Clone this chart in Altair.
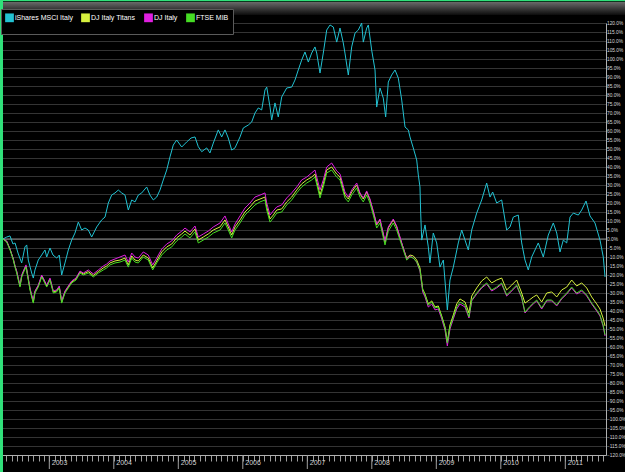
import altair as alt
import pandas as pd

series_names = ["iShares MSCI Italy", "DJ Italy Titans", "DJ Italy", "FTSE MIB"]
series_colors = ["#22c2d2", "#d6f03e", "#e020e0", "#46dc24"]

# iShares MSCI Italy (decimal year, % change)
cyan_t = [
    2002.282, 2002.340, 2002.391, 2002.437, 2002.469, 2002.515, 2002.572, 2002.623, 2002.650, 2002.674,
    2002.727, 2002.752, 2002.778, 2002.829, 2002.882, 2002.933, 2002.960, 2003.011, 2003.057, 2003.115,
    2003.155, 2003.192, 2003.243, 2003.295, 2003.347, 2003.398, 2003.450, 2003.502, 2003.553, 2003.605,
    2003.657, 2003.735, 2003.812, 2003.864, 2003.915, 2003.967, 2004.019, 2004.070, 2004.122, 2004.174,
    2004.225, 2004.278, 2004.329, 2004.380, 2004.433, 2004.510, 2004.561, 2004.612, 2004.665, 2004.716,
    2004.767, 2004.820, 2004.871, 2004.922, 2004.975, 2005.053, 2005.130, 2005.197, 2005.259, 2005.310,
    2005.363, 2005.440, 2005.491, 2005.543, 2005.620, 2005.673, 2005.724, 2005.775, 2005.828, 2005.879,
    2005.957, 2006.008, 2006.085, 2006.138, 2006.189, 2006.240, 2006.293, 2006.344, 2006.371, 2006.422,
    2006.448, 2006.499, 2006.550, 2006.603, 2006.681, 2006.758, 2006.809, 2006.860, 2006.913, 2006.964,
    2007.016, 2007.068, 2007.119, 2007.146, 2007.197, 2007.248, 2007.301, 2007.352, 2007.403, 2007.456,
    2007.507, 2007.558, 2007.584, 2007.636, 2007.688, 2007.740, 2007.791, 2007.843, 2007.868, 2007.921,
    2007.946, 2007.998, 2008.050, 2008.076, 2008.127, 2008.178, 2008.215, 2008.256, 2008.308, 2008.360,
    2008.411, 2008.464, 2008.515, 2008.566, 2008.592, 2008.643, 2008.696, 2008.721, 2008.747, 2008.758,
    2008.774, 2008.825, 2008.876, 2008.902, 2008.953, 2009.006, 2009.057, 2009.109, 2009.171, 2009.212,
    2009.264, 2009.341, 2009.394, 2009.445, 2009.496, 2009.549, 2009.626, 2009.704, 2009.781, 2009.833,
    2009.874, 2009.936, 2010.014, 2010.091, 2010.143, 2010.194, 2010.271, 2010.324, 2010.375, 2010.426,
    2010.479, 2010.530, 2010.581, 2010.659, 2010.736, 2010.814, 2010.867, 2010.918, 2010.969, 2011.022,
    2011.073, 2011.124, 2011.202, 2011.254, 2011.321, 2011.383, 2011.460, 2011.538, 2011.589, 2011.616,
]
cyan_v = [
    0, 1.1, 1.7, -2.8, -2.2, -7.8, -13.3, -4.4, -3.3, -11.7,
    -18.9, -21.7, -17.2, -11.7, -8.9, -6.1, -10, -5, -8.9, -10.6,
    -8.9, -20, -13.3, -6.1, -0.6, 3.3, 9.4, 5, 6.1, 5,
    1.1, 6.7, 10.6, 12.2, 20, 24.4, 25.6, 27.2, 25.6, 24.4,
    16.1, 21.7, 20.6, 24.4, 25.6, 28.9, 24.4, 21.7, 23.3, 27.2,
    32.8, 38.3, 45.6, 52.2, 55, 51.1, 53.9, 56.1, 56.7, 51.3,
    48.5, 50.6, 47.8, 53.3, 60.6, 56.7, 60.6, 56.1, 49.4, 50.6,
    56.7, 61.7, 63.3, 65, 70, 72.8, 71.7, 82.8, 84.4, 73.3,
    66.1, 75.6, 67.8, 78.9, 83.9, 84.4, 88.3, 93.9, 99.4, 103.9,
    98.3, 103.3, 106.7, 103.3, 92.2, 103.3, 116.1, 118.9, 117.8, 109.4,
    117.2, 108.9, 103.3, 91.1, 106.7, 114.4, 116.1, 120, 109.4, 117.2,
    118.9, 105, 93.9, 73.3, 83.9, 78.3, 67.8, 87.2, 91.1, 93.9,
    89.4, 77.2, 62.2, 60.6, 56.7, 50.6, 43.9, 35.6, 28.9, 14.4,
    -0.6, 7.8, -4.4, -13.3, 3.3, -2.2, -15.6, -11.7, -39.4, -22.8,
    -15.6, -2.2, 5, -0.6, -6.1, 5, 14.4, 21.7, 31.1, 23.3,
    26.1, 20, 21.7, 5, 6.7, 12.2, 13.3, -2.2, -11.7, -17.2,
    -10, -6.1, -2.2, -10, 2.2, 8.9, 3.3, -7.2, -0.6, -2.2,
    12.2, 14.4, 13.3, 16.1, 21.1, 12.8, 8.9, -0.6, -10, -21.1,
]

# DJ Italy Titans, DJ Italy, FTSE MIB share one date list
lower_t = [
    2002.282, 2002.340, 2002.391, 2002.442, 2002.468, 2002.495, 2002.519, 2002.546, 2002.572, 2002.597,
    2002.639, 2002.674, 2002.701, 2002.727, 2002.752, 2002.778, 2002.829, 2002.882, 2002.907, 2002.960,
    2003.011, 2003.062, 2003.115, 2003.155, 2003.192, 2003.243, 2003.295, 2003.347, 2003.414, 2003.476,
    2003.527, 2003.605, 2003.682, 2003.760, 2003.837, 2003.890, 2003.941, 2004.019, 2004.096, 2004.174,
    2004.225, 2004.278, 2004.329, 2004.380, 2004.457, 2004.535, 2004.603, 2004.665, 2004.743, 2004.820,
    2004.898, 2004.975, 2005.053, 2005.104, 2005.181, 2005.259, 2005.310, 2005.388, 2005.465, 2005.543,
    2005.647, 2005.724, 2005.775, 2005.828, 2005.879, 2005.957, 2006.034, 2006.112, 2006.189, 2006.267,
    2006.344, 2006.371, 2006.422, 2006.473, 2006.526, 2006.603, 2006.681, 2006.758, 2006.836, 2006.913,
    2006.991, 2007.068, 2007.119, 2007.197, 2007.248, 2007.301, 2007.378, 2007.456, 2007.507, 2007.584,
    2007.636, 2007.688, 2007.766, 2007.817, 2007.868, 2007.921, 2007.972, 2008.023, 2008.076, 2008.127,
    2008.205, 2008.256, 2008.333, 2008.386, 2008.437, 2008.488, 2008.541, 2008.592, 2008.643, 2008.696,
    2008.747, 2008.789, 2008.825, 2008.876, 2008.929, 2008.980, 2009.031, 2009.084, 2009.135, 2009.171,
    2009.212, 2009.264, 2009.316, 2009.367, 2009.445, 2009.507, 2009.549, 2009.626, 2009.704, 2009.781,
    2009.859, 2009.936, 2010.014, 2010.091, 2010.169, 2010.246, 2010.324, 2010.375, 2010.442, 2010.504,
    2010.557, 2010.634, 2010.712, 2010.789, 2010.867, 2010.944, 2011.022, 2011.099, 2011.177, 2011.254,
    2011.332, 2011.409, 2011.487, 2011.538, 2011.586, 2011.616,
]
titans_v = [
    0, -1.4, -5.6, -11.1, -15, -18.3, -22.2, -26.1, -20.6, -18.3,
    -15, -22.2, -27.8, -31.7, -35, -29.4, -26.1, -20.6, -22.2, -26.1,
    -22.2, -29.4, -28.9, -26.7, -35, -29.4, -26.7, -23.9, -22.2, -18.3,
    -19.4, -18.1, -20.3, -18.1, -16.1, -15, -13.3, -12.2, -11.7, -10.6,
    -14.4, -9.4, -11.7, -12.2, -8.9, -10.6, -16.1, -12.2, -7.2, -4.4,
    -2.8, 0.6, 2.8, 4.4, 2.2, 5.6, -0.6, 1.1, 2.8, 5,
    6.7, 10.6, 6.7, 2.2, 6.7, 10.6, 15, 17.8, 21.1, 22.2,
    23.3, 17.8, 11.1, 13.3, 16.1, 16.7, 20.6, 23.3, 27.2, 30.6,
    32.8, 34.4, 36.1, 24.4, 30.6, 38.3, 40, 36.1, 34.4, 24.4,
    22.2, 26.1, 30, 25, 22.2, 26.1, 21.7, 15, 7.8, 10.6,
    -1.7, 6.1, 10.6, 6.7, 0.6, -5, -10.6, -8.9, -9.4, -11.7,
    -16.1, -27.8, -30.6, -36.1, -34.4, -37.8, -37.2, -42.8, -48.9, -57.2,
    -47.8, -42.2, -36.1, -33.3, -35, -41.1, -31.7, -27.2, -23.3, -21.1,
    -24.4, -22.8, -21.7, -28.3, -25.6, -22.8, -30, -35.6, -33.9, -32.2,
    -31.1, -35, -30, -29.4, -32.2, -28.3, -26.7, -22.8, -26.1, -24.4,
    -27.2, -32.2, -36.1, -38.9, -43.9, -48.3,
]
djitaly_v = [
    0, -1.1, -5.6, -11.1, -15, -17.8, -21.7, -25.6, -20, -17.8,
    -14.4, -21.7, -27.2, -31.1, -33.9, -28.9, -25.6, -20, -21.7, -25.6,
    -21.7, -28.9, -28.3, -26.1, -34.4, -28.9, -26.1, -23.3, -21.7, -17.8,
    -18.9, -17.2, -19.4, -17.2, -15, -13.9, -12.2, -11.1, -10, -8.9,
    -12.8, -7.8, -10, -10.6, -7.2, -8.9, -14.4, -10.6, -5.6, -2.8,
    -1.1, 2.2, 4.4, 6.1, 3.9, 7.2, 1.1, 2.8, 4.4, 6.7,
    8.9, 12.8, 8.3, 3.9, 8.3, 12.8, 17.2, 20, 23.3, 24.4,
    25.6, 20, 13.3, 15.6, 17.8, 18.9, 22.8, 25.6, 28.9, 32.8,
    34.4, 36.7, 38.3, 27.2, 32.8, 40, 42.2, 37.8, 36.1, 26.1,
    23.3, 27.2, 31.1, 25.6, 22.8, 26.7, 22.2, 15.6, 8.3, 11.1,
    -1.1, 6.7, 11.1, 7.2, 1.1, -5, -11.1, -9.4, -10.6, -12.8,
    -17.8, -29.4, -32.2, -37.8, -36.1, -39.4, -38.9, -44.4, -50.6, -59.4,
    -50, -44.4, -38.9, -36.1, -37.8, -43.9, -34.4, -30.6, -27.2, -25,
    -28.9, -27.2, -25, -31.7, -28.9, -26.1, -32.8, -41.1, -38.3, -36.1,
    -34.4, -38.9, -34.4, -34.4, -37.2, -33.3, -30.6, -27.2, -30.6, -28.9,
    -31.7, -36.1, -40, -42.8, -48.3, -53.9,
]
ftse_v = [
    0, -1.7, -6.1, -11.7, -15.6, -18.9, -22.8, -26.7, -21.1, -18.9,
    -15.6, -22.8, -28.3, -32.2, -35.6, -30, -26.7, -21.1, -22.8, -26.7,
    -22.8, -30, -29.4, -27.2, -35.6, -30, -27.2, -24.4, -22.8, -18.9,
    -20, -18.9, -21.1, -18.9, -17.2, -16.1, -14.4, -13.3, -12.8, -11.7,
    -15.6, -10.6, -12.8, -13.3, -10, -11.7, -17.2, -13.3, -8.9, -6.1,
    -4.4, -1.1, 1.1, 2.8, 0.6, 3.9, -2.2, -0.6, 1.1, 3.3,
    5, 8.9, 5, 0.6, 5, 8.9, 13.3, 16.1, 18.9, 20.6,
    21.7, 16.1, 9.4, 11.7, 14.4, 15, 18.9, 21.7, 25.6, 28.9,
    31.1, 32.8, 34.4, 22.8, 28.9, 36.7, 38.3, 34.4, 32.8, 22.8,
    20.6, 24.4, 28.3, 23.3, 20.6, 24.4, 20, 13.3, 6.1, 8.9,
    -3.3, 4.4, 8.9, 5, -0.6, -6.1, -11.7, -10, -10.6, -12.8,
    -17.2, -28.3, -31.1, -36.7, -35, -38.3, -37.8, -43.3, -49.4, -57.8,
    -48.9, -43.3, -37.8, -35, -36.7, -43.3, -33.9, -30, -26.7, -24.4,
    -28.3, -26.7, -24.4, -31.1, -28.3, -25.6, -32.2, -40.6, -37.8, -35.6,
    -33.9, -38.3, -33.9, -33.9, -36.7, -32.8, -30, -26.7, -30, -28.3,
    -31.1, -35.6, -39.4, -42.2, -47.8, -53.3,
]

year_ticks = [2003, 2004, 2005, 2006, 2007, 2008, 2009, 2010, 2011]
month_ticks = [2002 + m / 12 for m in range(3, 116)]
pct_ticks = list(range(-120, 125, 5))

rows = []
for t, v in zip(cyan_t, cyan_v):
    rows.append({"t": t, "v": v, "series": series_names[0]})
for t, a, b, c in zip(lower_t, titans_v, djitaly_v, ftse_v):
    rows.append({"t": t, "v": a, "series": series_names[1]})
    rows.append({"t": t, "v": b, "series": series_names[2]})
    rows.append({"t": t, "v": c, "series": series_names[3]})
df = pd.DataFrame(rows)

W, H = 606, 432
FONT = "Liberation Sans, Arial, sans-serif"

x_enc = alt.X(
    "t:Q",
    title=None,
    scale=alt.Scale(domain=[2002.2357, 2011.631], nice=False, zero=False),
    axis=alt.Axis(
        values=month_ticks,
        labelExpr="abs(datum.value - round(datum.value)) < 0.001 ? toString(round(datum.value)) : ''",
        labelAlign="left", labelBaseline="top", labelOffset=2, labelPadding=-3,
        labelFontSize=7, labelColor="#d0d0d0", labelFont=FONT, labelOverlap=False,
        tickSize=6, tickColor="#a0a0a0", domainColor="#b0b0b0", grid=False,
    ),
)
y_enc = alt.Y(
    "v:Q",
    title=None,
    scale=alt.Scale(domain=[-120, 120], nice=False, zero=False),
    axis=alt.Axis(
        orient="right", values=pct_ticks,
        labelExpr="format(datum.value, '.1f') + '%'",
        labelFontSize=4.8, labelColor="#d8d8d8", labelFont=FONT, labelPadding=0.5,
        labelOverlap=False, ticks=False, domainColor="#b0b0b0",
        grid=True, gridColor="#343434", gridWidth=1,
    ),
)

one = alt.Data(values=[{"a": 1}])

top_bar = alt.Chart(one).mark_rect(
    color=alt.Gradient(
        gradient="linear",
        stops=[alt.GradientStop(color="#6a6a6a", offset=0), alt.GradientStop(color="#0c0c0c", offset=1)],
        x1=0, x2=0, y1=0, y2=1,
    )
).encode(x=alt.value(0), x2=alt.value(625), y=alt.value(-21), y2=alt.value(-8))

zero_line = alt.Chart(alt.Data(values=[{"v": 0}])).mark_rule(color="#8c8c8c", strokeWidth=1).encode(y=y_enc)

year_tick_rules = alt.Chart(pd.DataFrame({"t": year_ticks})).mark_rule(color="#a0a0a0").encode(
    x=x_enc, y=alt.value(H), y2=alt.value(H + 14)
)

color_enc = alt.Color(
    "series:N",
    scale=alt.Scale(domain=series_names, range=series_colors),
    legend=alt.Legend(
        title=None, orient="none", legendX=1, legendY=-14, direction="horizontal",
        symbolType="square", symbolSize=14, symbolStrokeWidth=5,
        labelColor="#ffffff", labelFontSize=7, labelFont=FONT, labelOffset=1,
        columnPadding=0, fillColor="#000000", strokeColor="#5a5a5a", padding=4,
    ),
)

base = alt.Chart(df).mark_line(strokeWidth=1, clip=True).encode(x=x_enc, y=y_enc, color=color_enc)
line_layers = [base.transform_filter(alt.datum.series == name) for name in series_names]

left_frame = alt.Chart(one).mark_rule(color="#30e07a", strokeWidth=3).encode(
    x=alt.value(1.5), y=alt.value(-23), y2=alt.value(H + 17)
)
top_frame = alt.Chart(one).mark_rule(color="#30e07a", strokeWidth=1.5).encode(
    x=alt.value(0), x2=alt.value(625), y=alt.value(-22.5)
)

chart = alt.layer(
    top_bar, zero_line, year_tick_rules, *line_layers, left_frame, top_frame
).properties(
    width=W, height=H,
    padding={"left": 0, "top": 23, "right": 19, "bottom": 17},
    autosize=alt.AutoSizeParams(type="none"),
    background="#000000",
).configure_view(stroke=None, fill="#000000")

chart.save("out.html", embed_options={"renderer": "svg", "actions": False})
